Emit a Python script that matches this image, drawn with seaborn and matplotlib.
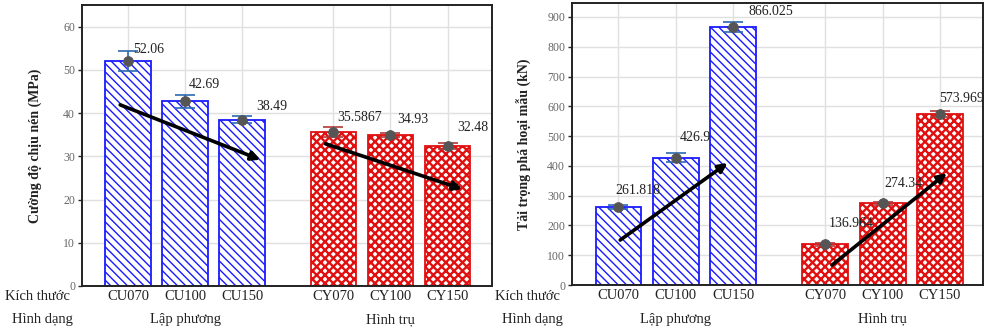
import numpy as np
import pandas as pd
import matplotlib
matplotlib.use("Agg")
import matplotlib.pyplot as plt
import matplotlib.transforms as mtransforms
import seaborn as sns

# ---------------- data ----------------
samples = ["CU070", "CU100", "CU150", "CY070", "CY100", "CY150"]
shapes = ["Lập phương", "Lập phương", "Lập phương", "Hình trụ", "Hình trụ", "Hình trụ"]
strength = [52.06, 42.69, 38.49, 35.5867, 34.93, 32.48]
strength_err = [2.3, 1.5, 0.9, 1.1, 0.5, 0.7]
strength_labels = ["52.06", "42.69", "38.49", "35.5867", "34.93", "32.48"]
load = [261.818, 426.9, 866.025, 136.964, 274.34, 573.969]
load_err = [8, 15, 18, 5, 5, 10]
load_labels = ["261.818", "426.9", "866.025", "136.964", "274.34", "573.969"]
shape_order = ["Lập phương", "Hình trụ"]
row_labels = ["Kích thước", "Hình dạng"]
ylabels = ["Cường độ chịu nén (MPa)", "Tải trọng phá hoại mẫu (kN)"]

# ---------------- style ----------------
sns.set_theme(style="white")
plt.rcParams["font.family"] = ["Liberation Serif", "DejaVu Serif"]
plt.rcParams["hatch.linewidth"] = 1.0

GROUP_GAP = 0.6
pos = [i + GROUP_GAP * shape_order.index(s) for i, s in enumerate(shapes)]
df = pd.DataFrame({"sample": samples, "shape": shapes, "pos": pos,
                   "strength": strength, "load": load})

edge_cols = {"Lập phương": "#1a1aff", "Hình trụ": "#e01010"}
err_cols = {"Lập phương": "#2a6ab0", "Hình trụ": "#b03838"}
hatches = {"Lập phương": "\\\\\\\\", "Hình trụ": "xxxx"}
hatch_lw = {"Lập phương": 1.0, "Hình trụ": 1.7}

W, H = 987, 329
fig = plt.figure(figsize=(W / 100, H / 100), dpi=100)
ax1 = fig.add_axes([82 / W, 1 - 286 / H, 410 / W, 281 / H])
ax2 = fig.add_axes([572 / W, 1 - 285 / H, 411 / W, 282 / H])

panels = [
    (ax1, "strength", strength_err, strength_labels, (0, 65), np.arange(0, 61, 10),
     [(5, 11), (4, 17), (14, 13), (4, 15), (7, 15), (10, 18)],
     [((-0.14, 41.9), (2.32, 29.2)), ((3.46, 32.9), (5.86, 22.4))]),
    (ax2, "load", load_err, load_labels, (0, 947), np.arange(0, 901, 100),
     [(-3, 17), (4, 20), (15, 16), (4, 21), (2, 20), (-1, 16)],
     [((0.03, 151), (1.9, 410)), ((3.72, 67), (5.72, 376))]),
]

for k, (ax, col, err, labels, ylim, yticks, offs, arrows) in enumerate(panels):
    sns.barplot(data=df, x="pos", y=col, native_scale=True, errorbar=None,
                width=0.8, color="white", ax=ax, zorder=2)
    for patch, s in zip(ax.patches, df["shape"]):
        patch.set_facecolor("white")
        patch.set_edgecolor(edge_cols[s])
        patch.set_hatch(hatches[s])
        patch.set_linewidth(1.3)
        if hasattr(patch, "set_hatch_linewidth"):
            patch.set_hatch_linewidth(hatch_lw[s])
    vals = df[col].values
    for x, v, e, s in zip(df["pos"], vals, err, df["shape"]):
        ax.errorbar(x, v, yerr=e, fmt="none", ecolor=err_cols[s],
                    elinewidth=1.2, capsize=7.5, capthick=1.2, zorder=4)
    sns.scatterplot(x=df["pos"], y=vals, color="#555555", s=50,
                    edgecolor="#555555", ax=ax, zorder=5, legend=False)
    for x, v, lab, (dx, dy) in zip(df["pos"], vals, labels, offs):
        ax.annotate(lab, (x, v), xytext=(dx, dy), textcoords="offset pixels",
                    ha="left", va="center", fontsize=10, color="#222222", zorder=6)
    for start, end in arrows:
        ax.annotate("", xy=end, xytext=start,
                    arrowprops=dict(arrowstyle="-|>", lw=2.6, color="black",
                                    mutation_scale=13, shrinkA=0, shrinkB=0),
                    zorder=7)
    ax.set_xlim(-0.81, 6.38 if k == 0 else 6.35)
    ax.set_ylim(*ylim)
    ax.set_yticks(yticks)
    ax.set_xticks(df["pos"])
    ax.set_xticklabels(samples, fontsize=10.5, color="#222222")
    ax.tick_params(axis="x", length=0, pad=3)
    ax.tick_params(axis="y", length=3, width=1, labelsize=8.5, labelcolor="#666666",
                   pad=2, left=True, direction="out")
    ax.set_xlabel("")
    ax.set_ylabel(ylabels[k], fontsize=10, fontweight="bold", color="#222222")
    ax.yaxis.set_label_coords(-40 / 410, 0.5)
    ax.grid(True, color="#e0e0e0", linewidth=1.0, zorder=0)
    ax.set_axisbelow(True)
    for sp in ax.spines.values():
        sp.set_visible(True)
        sp.set_color("#222222")
        sp.set_linewidth(1.4)
    trans = mtransforms.blended_transform_factory(ax.transData, ax.transAxes)
    for g in shape_order:
        center = df.loc[df["shape"] == g, "pos"].mean()
        ax.text(center, -34 / 281, g, transform=trans, ha="center", va="center",
                fontsize=10.5, color="#222222")
    x0 = 5 if k == 0 else 495
    fig.text(x0 / W, 1 - 297 / H, row_labels[0], ha="left", va="center",
             fontsize=10.5, color="#222222")
    fig.text((x0 + 7) / W, 1 - 320 / H, row_labels[1], ha="left", va="center",
             fontsize=10.5, color="#222222")

fig.savefig("out.png", dpi=100)
